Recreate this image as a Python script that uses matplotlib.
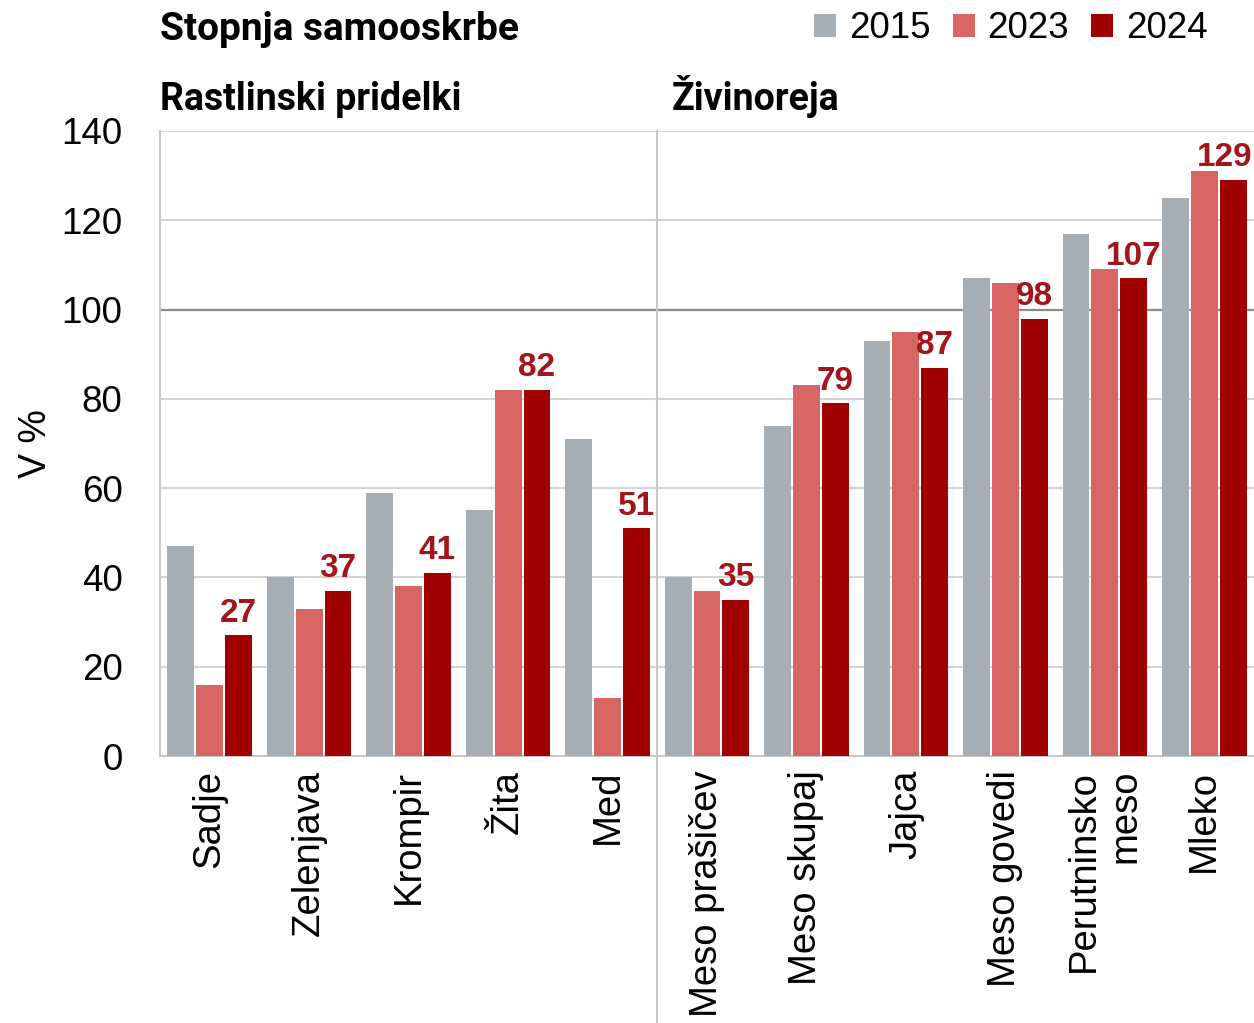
import matplotlib
matplotlib.use("Agg")
import matplotlib.pyplot as plt
import numpy as np

# data
categories = ["Sadje", "Zelenjava", "Krompir", "Žita", "Med",
              "Meso prašičev", "Meso skupaj", "Jajca", "Meso govedi",
              "Perutninsko\nmeso", "Mleko"]
v2015 = [47, 40, 59, 55, 71, 40, 74, 93, 107, 117, 125]
v2023 = [16, 33, 38, 82, 13, 37, 83, 95, 106, 109, 131]
v2024 = [27, 37, 41, 82, 51, 35, 79, 87, 98, 107, 129]
years = ["2015", "2023", "2024"]
yticks = [0, 20, 40, 60, 80, 100, 120, 140]

c2015 = "#A6ADB3"
c2023 = "#D66563"
c2024 = "#A00000"
lab_col = "#A3151A"

plt.rcParams['font.family'] = ['Liberation Sans', 'DejaVu Sans']
head_font = ['Liberation Sans Narrow', 'Roboto', 'DejaVu Sans']

fig = plt.figure(figsize=(12.54, 10.23), dpi=100)
ax = fig.add_axes([160/1254, 1 - 756/1023, 1 - 160/1254, (756 - 131)/1023])

x = np.arange(len(categories))
w = 0.27
off = 0.29
b1 = ax.bar(x - off, v2015, w, color=c2015, label=years[0], zorder=3)
b2 = ax.bar(x, v2023, w, color=c2023, label=years[1], zorder=3)
b3 = ax.bar(x + off, v2024, w, color=c2024, label=years[2], zorder=3)

ax.set_xlim(-0.5, len(categories) - 0.5)
ax.set_ylim(0, 140)

# labels on 2024 bars (last one kept inside the figure)
for xi, v in zip(x, v2024):
    if xi == x[-1]:
        ax.text(len(categories) - 0.52, v + 1.5, str(v), ha="right", va="bottom",
                fontsize=24, fontweight="bold", color=lab_col, zorder=4)
    else:
        ax.text(xi + off, v + 1.5, str(v), ha="center", va="bottom",
                fontsize=24, fontweight="bold", color=lab_col, zorder=4)

ax.set_yticks(yticks)
ax.yaxis.grid(True, color="#D3D3D3", lw=1.5, zorder=0)
ax.axhline(100, color="#8C8C8C", lw=1.6, zorder=1)
ax.set_axisbelow(True)

ax.set_xticks(x)
ax.set_xticklabels(categories, rotation=90, fontsize=27.5, multialignment="right")
ax.tick_params(axis="x", length=0, pad=10)
ax.tick_params(axis="y", length=0, pad=27, labelsize=26.5)
ax.set_ylabel("V %", fontsize=27, labelpad=5)

for s in ["top", "right"]:
    ax.spines[s].set_visible(False)
for s in ["left", "bottom"]:
    ax.spines[s].set_color("#C8C8C8")
    ax.spines[s].set_linewidth(1.5)

# divider between the two groups
ax.axvline(4.5, ymin=-0.43, ymax=1, color="#C8C8C8", lw=1.5, clip_on=False)

fig.text(160/1254, 1 - 30/1023, "Stopnja samooskrbe", fontsize=28,
         fontweight="bold", family=head_font, va="center", ha="left")
fig.text(160/1254, 1 - 100/1023, "Rastlinski pridelki", fontsize=27,
         fontweight="bold", family=head_font, va="center", ha="left")
fig.text(672/1254, 1 - 97/1023, "Živinoreja", fontsize=27,
         fontweight="bold", family=head_font, va="center", ha="left")

fig.legend(handles=[b1, b2, b3], labels=years, loc="center right",
           bbox_to_anchor=(1208/1254, 1 - 29/1023), ncol=3, frameon=False,
           fontsize=26.5, handlelength=0.6, handleheight=0.6,
           handletextpad=0.35, columnspacing=0.6, borderpad=0, borderaxespad=0)

fig.savefig("out.png", dpi=100)
